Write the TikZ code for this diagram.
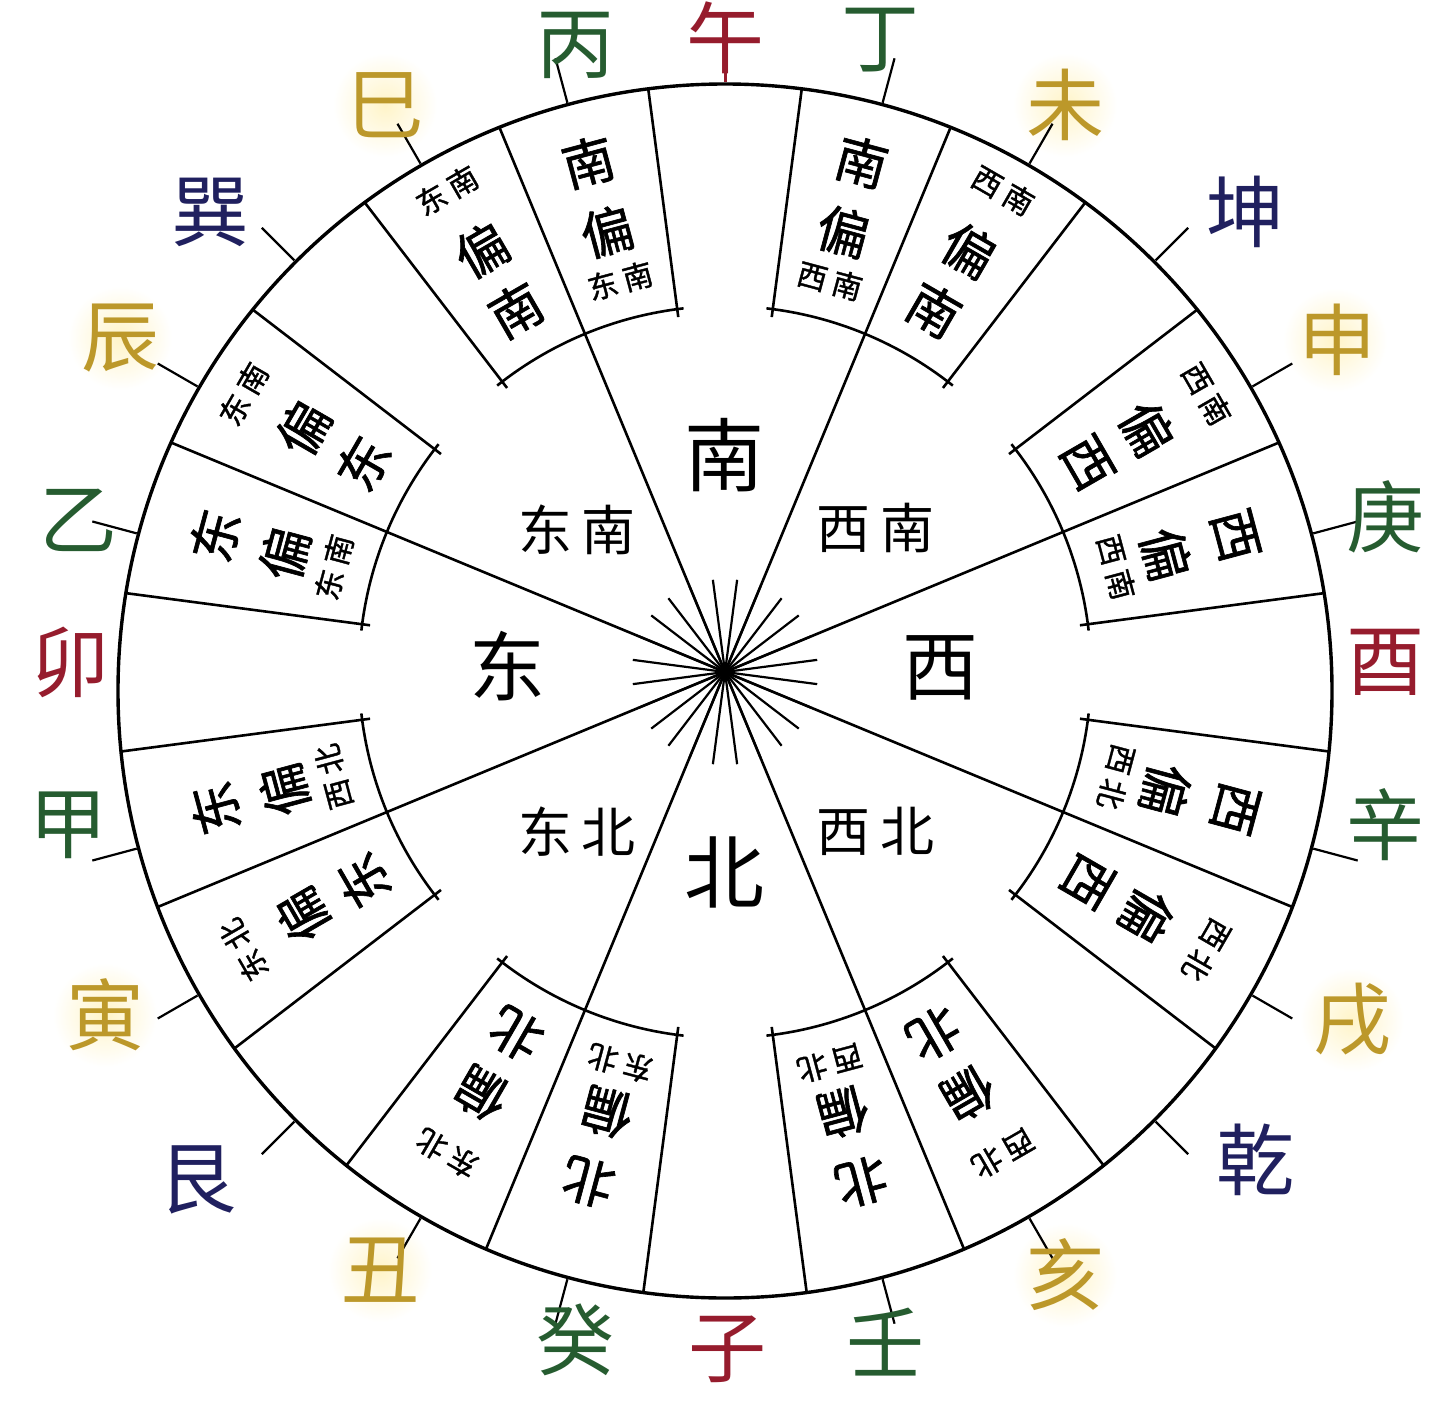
\documentclass[tikz,border=0pt]{standalone}
\usepackage{fontspec}
\setmainfont{Noto Sans CJK SC}
\newfontfamily\medcjk{Noto Sans CJK SC}[FakeBold=1.2]
\usetikzlibrary{calc}
\definecolor{lred}{RGB}{150,28,45}
\definecolor{lgreen}{RGB}{38,92,48}
\definecolor{lgold}{RGB}{188,152,42}
\definecolor{lnavy}{RGB}{32,32,95}
\definecolor{glow}{RGB}{255,244,200}

\newcommand\boxA[3]{% angle, big char, small pair  (big char at outer end)
  \node[bigc, rotate=#1-90] (a#1x) at ($(O)+(#1:528)$) {#2};
  \node[bigc, rotate=#1-90] (a#1y) at ($(O)+(#1:456)$) {偏};
  \node[smlc, rotate=#1-90] (a#1z) at ($(O)+(#1:405)$) {#3};
}
\newcommand\boxB[3]{% angle, big char, small pair  (small pair at outer end)
  \node[smlc, rotate=#1-90] (b#1x) at ($(O)+(#1:556)$) {#3};
  \node[bigc, rotate=#1-90] (b#1y) at ($(O)+(#1:487)$) {偏};
  \node[bigc, rotate=#1-90] (b#1z) at ($(O)+(#1:418)$) {#2};
}

\begin{document}
\begin{tikzpicture}[x=1pt,y=1pt,
  ln/.style={line width=2.6pt, black},
  rim/.style={line width=3.4pt, black},
  mtn/.style={font=\fontsize{78}{78}\selectfont, inner sep=0pt},
  bigc/.style={font=\medcjk\fontsize{52}{52}\selectfont, inner sep=0pt},
  smlc/.style={font=\medcjk\fontsize{30}{30}\selectfont, inner sep=0pt},
  ctr/.style={font=\fontsize{54}{54}\selectfont, inner sep=0pt},
  card/.style={font=\fontsize{80}{80}\selectfont, inner sep=0pt},
]
\useasboundingbox (0,0) rectangle (1440,-1410);
\fill[white] (0,0) rectangle (1440,-1410);
\coordinate (O) at (725,-672);
\coordinate (C) at (725,-691);

% glows behind gold labels
\foreach \x/\y in {1065/105,1335/340,1352/1020,1065/1275,380/1270,105/1015,120/338,385/105}
  \shade[inner color=glow, outer color=white] (\x,-\y) circle (52);

% outer circle
\draw[rim] (C) circle (607);

% main lines from centre to rim
\foreach \a in {22.5,67.5,...,337.5} {
  \pgfmathsetmacro\t{100*(-0.19*sin(\a)+sqrt(0.0361*sin(\a)^2+36.8088))}
  \draw[ln] (O) -- ($(O)+(\a:\t)$);
}
% box side lines
\foreach \k in {0,...,23} {
  \pgfmathtruncatemacro\m{mod(\k,3)}
  \ifnum\m=1\relax\else
    \pgfmathsetmacro\a{7.5+15*\k}
    \pgfmathsetmacro\t{100*(-0.19*sin(\a)+sqrt(0.0361*sin(\a)^2+36.8088))}
    \draw[ln] ($(O)+(\a:358)$) -- ($(O)+(\a:\t)$);
  \fi
}
% inner arcs of the boxes
\foreach \c in {22.5,67.5,...,337.5}
  \draw[ln] ($(O)+(\c-16:366)$) arc[start angle=\c-16, end angle=\c+16, radius=366];

% central star
\foreach \a in {7.5,22.5,...,172.5}
  \draw[line width=2.2pt] ($(O)+(\a:93)$) -- ($(O)+(\a+180:93)$);

% outer ticks
\foreach \a in {15,30,45,60,75,105,120,135,150,165,195,210,225,240,255,285,300,315,330,345}
  \draw[line width=2.2pt] ($(C)+(\a:609)$) -- ($(C)+(\a:655)$);
\draw[line width=3pt, lred] ($(C)+(90:609)$) -- ($(C)+(90:630)$);

% 24 mountains
\node[mtn, lred]   (m00) at (725,-38)   {午};
\node[mtn, lgreen] (m01) at (880,-40)   {丁};
\node[mtn, lgold]  (m02) at (1065,-105) {未};
\node[mtn, lnavy]  (m03) at (1245,-212) {坤};
\node[mtn, lgold]  (m04) at (1337,-340) {申};
\node[mtn, lgreen] (m05) at (1385,-517) {庚};
\node[mtn, lred]   (m06) at (1385,-662) {酉};
\node[mtn, lgreen] (m07) at (1385,-825) {辛};
\node[mtn, lgold]  (m08) at (1352,-1020){戌};
\node[mtn, lnavy]  (m09) at (1255,-1160){乾};
\node[mtn, lgold]  (m10) at (1065,-1275){亥};
\node[mtn, lgreen] (m11) at (885,-1342) {壬};
\node[mtn, lred]   (m12) at (727,-1349) {子};
\node[mtn, lgreen] (m13) at (575,-1340) {癸};
\node[mtn, lgold]  (m14) at (380,-1270) {丑};
\node[mtn, lnavy]  (m15) at (197,-1180) {艮};
\node[mtn, lgold]  (m16) at (105,-1015) {寅};
\node[mtn, lgreen] (m17) at (68,-825)   {甲};
\node[mtn, lred]   (m18) at (70,-662)   {卯};
\node[mtn, lgreen] (m19) at (78,-520)   {乙};
\node[mtn, lgold]  (m20) at (120,-338)  {辰};
\node[mtn, lnavy]  (m21) at (210,-212)  {巽};
\node[mtn, lgold]  (m22) at (385,-105)  {巳};
\node[mtn, lgreen] (m23) at (575,-45)   {丙};

% centre labels
\node[card] (cS) at (724,-455) {南};
\node[card] (cN) at (724,-872) {北};
\node[card, font=\fontsize{76}{76}\selectfont] (cE) at (507,-666) {东};
\node[card, font=\fontsize{76}{76}\selectfont] (cW) at (940,-668) {西};
\node[ctr] (cSE) at (577,-530) {东\hspace{10pt}南};
\node[ctr] (cSW) at (875,-528) {西\hspace{10pt}南};
\node[ctr] (cNE) at (577,-832) {东\hspace{10pt}北};
\node[ctr] (cNW) at (875,-831) {西\hspace{10pt}北};

% box texts
\boxA{105}{南}{东\hspace{6pt}南}
\boxB{120}{南}{东\hspace{6pt}南}
\boxA{75}{南}{西\hspace{6pt}南}
\boxB{60}{南}{西\hspace{6pt}南}
\boxB{30}{西}{西\hspace{6pt}南}
\boxA{15}{西}{西\hspace{6pt}南}
\boxA{-15}{西}{西\hspace{6pt}北}
\boxB{-30}{西}{西\hspace{6pt}北}
\boxB{-60}{北}{西\hspace{6pt}北}
\boxA{-75}{北}{西\hspace{6pt}北}
\boxA{-105}{北}{东\hspace{6pt}北}
\boxB{-120}{北}{东\hspace{6pt}北}
\boxB{-150}{东}{东\hspace{6pt}北}
\boxA{-165}{东}{西\hspace{6pt}北}
\boxA{165}{东}{东\hspace{6pt}南}
\boxB{150}{东}{东\hspace{6pt}南}
\end{tikzpicture}
\end{document}
